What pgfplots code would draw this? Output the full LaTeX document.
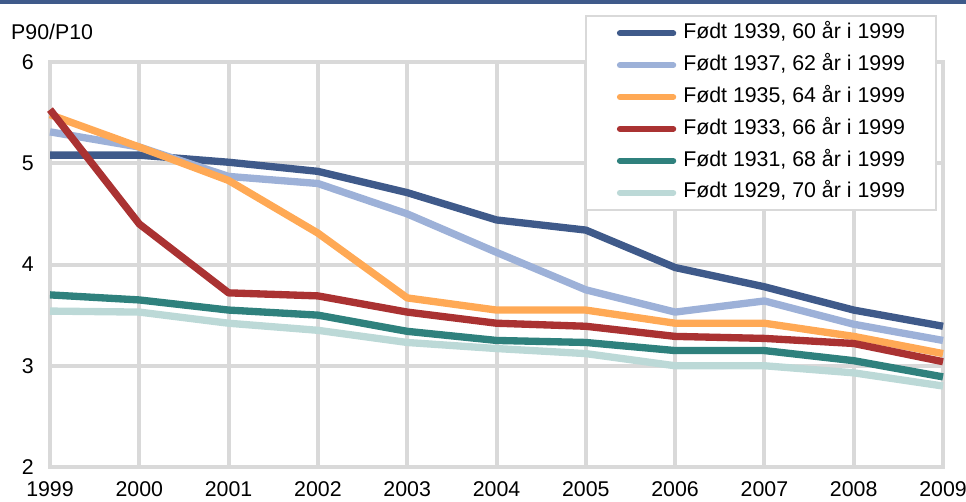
\documentclass[border=0pt]{standalone}
\usepackage{fontspec}
\setmainfont{Liberation Sans}
\usepackage{pgfplots}
\pgfplotsset{compat=1.18}
\definecolor{c1}{HTML}{3F5A8A}
\definecolor{c2}{HTML}{9DB1D8}
\definecolor{c3}{HTML}{FFA955}
\definecolor{c4}{HTML}{AA3232}
\definecolor{c5}{HTML}{2F817D}
\definecolor{c6}{HTML}{BCD9D7}
\definecolor{gridc}{HTML}{D9D9D9}
\newcommand{\fs}{\fontsize{16}{19}\selectfont}
\begin{document}
\begin{tikzpicture}[x=1pt,y=1pt]
\path[use as bounding box] (0,0) rectangle (724.5,375.75);
\fill[c1] (0,372.5) rectangle (724.5,375.75);
\begin{axis}[
  at={(37.5pt,25.5pt)}, anchor=south west,
  scale only axis, width=669.75pt, height=303.75pt,
  xmin=1999, xmax=2009, ymin=2, ymax=6,
  clip=false,
  xtick={1999,2000,2001,2002,2003,2004,2005,2006,2007,2008,2009},
  ytick={2,3,4,5,6},
  grid=major, major grid style={gridc, line width=3pt},
  axis line style={gridc, line width=3pt},
  major tick length=0pt,
  /pgf/number format/assume math mode=true,
  /pgf/number format/set thousands separator={},
  tick label style={font=\fs, text=black},
  xticklabel style={inner sep=0pt, anchor=north, yshift=-11pt},
  yticklabel style={inner sep=0pt, anchor=east, xshift=-12pt},
  legend style={at={(rel axis cs:0.599,1.116)}, anchor=north west, draw=gridc, line width=1.5pt, fill=white,
    inner xsep=23.25pt, inner ysep=1pt, column sep=5.25pt,
    nodes={inner xsep=0pt, inner ysep=4.45pt, text height=11.5pt, text depth=3.5pt, font=\fs},
    cells={anchor=west}},
  legend image code/.code={\draw[#1, line width=4.5pt, line cap=round] (0pt,0pt) -- (40pt,0pt);},
]
\addplot[c1, line width=5.5pt, line join=round] coordinates {(1999,5.08) (2000,5.08) (2001,5.01) (2002,4.92) (2003,4.71) (2004,4.44) (2005,4.34) (2006,3.97) (2007,3.78) (2008,3.55) (2009,3.39)};
\addlegendentry{Født 1939, 60 år i 1999}
\addplot[c2, line width=5.5pt, line join=round] coordinates {(1999,5.31) (2000,5.16) (2001,4.87) (2002,4.80) (2003,4.50) (2004,4.12) (2005,3.75) (2006,3.53) (2007,3.64) (2008,3.41) (2009,3.25)};
\addlegendentry{Født 1937, 62 år i 1999}
\addplot[c3, line width=5.5pt, line join=round] coordinates {(1999,5.48) (2000,5.16) (2001,4.83) (2002,4.31) (2003,3.67) (2004,3.55) (2005,3.55) (2006,3.42) (2007,3.42) (2008,3.29) (2009,3.12)};
\addlegendentry{Født 1935, 64 år i 1999}
\addplot[c4, line width=5.5pt, line join=round] coordinates {(1999,5.53) (2000,4.40) (2001,3.72) (2002,3.69) (2003,3.53) (2004,3.42) (2005,3.39) (2006,3.29) (2007,3.27) (2008,3.22) (2009,3.04)};
\addlegendentry{Født 1933, 66 år i 1999}
\addplot[c5, line width=5.5pt, line join=round] coordinates {(1999,3.70) (2000,3.65) (2001,3.55) (2002,3.50) (2003,3.34) (2004,3.25) (2005,3.23) (2006,3.15) (2007,3.15) (2008,3.05) (2009,2.89)};
\addlegendentry{Født 1931, 68 år i 1999}
\addplot[c6, line width=5.5pt, line join=round] coordinates {(1999,3.54) (2000,3.53) (2001,3.42) (2002,3.35) (2003,3.23) (2004,3.17) (2005,3.12) (2006,3.00) (2007,3.00) (2008,2.93) (2009,2.80)};
\addlegendentry{Født 1929, 70 år i 1999}
\node[anchor=west, inner sep=0pt, font=\fs] at (rel axis cs:-0.0437,1.074) {P90/P10};
\end{axis}
\end{tikzpicture}
\end{document}
